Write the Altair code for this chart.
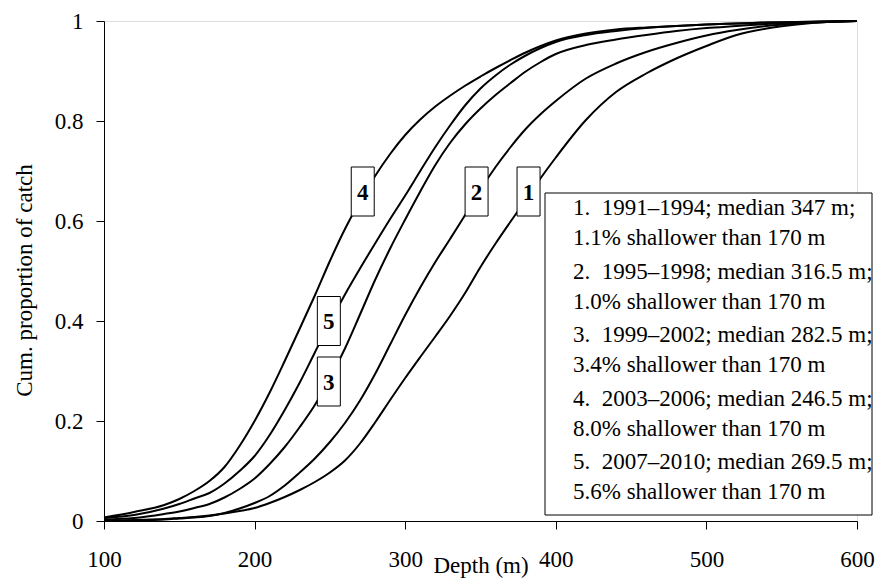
import altair as alt
import pandas as pd

# ---- data ----
depth = [100, 120, 140, 150, 160, 170, 180, 190, 200, 210, 220, 230, 240, 250, 260,
         270, 280, 290, 300, 310, 320, 330, 340, 350, 360, 370, 380, 390, 400, 420,
         440, 460, 480, 500, 520, 540, 560, 580, 600]

cum_1 = [0.0, 0.002, 0.004, 0.006, 0.008, 0.011, 0.015, 0.020, 0.026, 0.036, 0.048, 0.062,
         0.078, 0.097, 0.121, 0.155, 0.197, 0.242, 0.286, 0.328, 0.369, 0.411, 0.457, 0.508,
         0.555, 0.599, 0.642, 0.686, 0.727, 0.802, 0.858, 0.895, 0.925, 0.950, 0.972, 0.985,
         0.993, 0.998, 1.0]
cum_2 = [0.0, 0.001, 0.003, 0.005, 0.007, 0.010, 0.016, 0.025, 0.036, 0.050, 0.071, 0.097,
         0.125, 0.158, 0.196, 0.241, 0.294, 0.353, 0.412, 0.467, 0.518, 0.565, 0.613, 0.663,
         0.708, 0.748, 0.784, 0.814, 0.840, 0.885, 0.915, 0.938, 0.956, 0.971, 0.982, 0.990,
         0.995, 0.998, 1.0]
cum_3 = [0.003, 0.006, 0.014, 0.019, 0.026, 0.034, 0.047, 0.064, 0.085, 0.114, 0.148, 0.188,
         0.232, 0.285, 0.345, 0.413, 0.482, 0.545, 0.603, 0.659, 0.712, 0.757, 0.794, 0.825,
         0.852, 0.876, 0.899, 0.918, 0.934, 0.952, 0.963, 0.972, 0.980, 0.986, 0.990, 0.994,
         0.997, 0.999, 1.0]
cum_4 = [0.007, 0.018, 0.032, 0.044, 0.060, 0.080, 0.108, 0.150, 0.200, 0.257, 0.320, 0.385,
         0.451, 0.520, 0.584, 0.640, 0.690, 0.734, 0.772, 0.803, 0.829, 0.851, 0.871, 0.889,
         0.906, 0.922, 0.937, 0.950, 0.961, 0.975, 0.983, 0.987, 0.990, 0.993, 0.995, 0.997,
         0.998, 0.999, 1.0]
cum_5 = [0.006, 0.012, 0.025, 0.034, 0.045, 0.056, 0.075, 0.100, 0.130, 0.172, 0.222, 0.277,
         0.337, 0.397, 0.453, 0.505, 0.555, 0.604, 0.651, 0.700, 0.748, 0.792, 0.832, 0.865,
         0.891, 0.913, 0.931, 0.946, 0.958, 0.972, 0.980, 0.986, 0.990, 0.993, 0.995, 0.997,
         0.998, 0.999, 1.0]

series_names = ["1", "2", "3", "4", "5"]
series_values = [cum_1, cum_2, cum_3, cum_4, cum_5]

# curve label boxes (number, depth, cum. proportion at the box centre)
label_names = ["4", "2", "1", "5", "3"]
label_depth = [271.8, 347.4, 381.9, 249.3, 249.3]
label_cum = [0.659, 0.659, 0.659, 0.400, 0.279]

legend_lines = [
    ("1.\u00a0 1991\u20131994; median 347 m;", "1.1% shallower than 170 m"),
    ("2.\u00a0 1995\u20131998; median 316.5 m;", "1.0% shallower than 170 m"),
    ("3.\u00a0 1999\u20132002; median 282.5 m;", "3.4% shallower than 170 m"),
    ("4.\u00a0 2003\u20132006; median 246.5 m;", "8.0% shallower than 170 m"),
    ("5.\u00a0 2007\u20132010; median 269.5 m;", "5.6% shallower than 170 m"),
]

x_ticks = [100, 200, 300, 400, 500, 600]
y_ticks = [0, 0.2, 0.4, 0.6, 0.8, 1.0]

# ---- build tables ----
rows = []
for name, vals in zip(series_names, series_values):
    for d, v in zip(depth, vals):
        rows.append({"period": name, "depth": d, "cum": v})
df = pd.DataFrame(rows)
lab = pd.DataFrame({"label": label_names, "depth": label_depth, "cum": label_cum})

FONT = "Liberation Serif"
FS = 23

xscale = alt.Scale(domain=[100, 600], nice=False, zero=False)
yscale = alt.Scale(domain=[0, 1], nice=False)

x_axis = alt.Axis(values=x_ticks, grid=False, tickSize=8, tickColor="black",
                  domainColor="black", labelFont=FONT, labelFontSize=FS,
                  labelColor="black", labelPadding=37, labelBaseline="alphabetic",
                  labelFlush=False, title="Depth (m)", titleFont=FONT,
                  titleFontSize=FS, titleFontWeight="normal", titleColor="black",
                  titleBaseline="alphabetic", titleY=51)
y_axis = alt.Axis(values=y_ticks, grid=False, tickSize=8, tickColor="black",
                  domainColor="black", labelFont=FONT, labelFontSize=FS,
                  labelColor="black", labelPadding=13, format="~g", labelFlush=False,
                  title="Cum. proportion of catch", titleFont=FONT, titleFontSize=FS,
                  titleFontWeight="normal", titleColor="black",
                  titleBaseline="middle", titleX=-80, titleY=259)

lines = alt.Chart(df).mark_line(color="black", strokeWidth=2,
                                interpolate="monotone").encode(
    x=alt.X("depth:Q", scale=xscale, axis=x_axis),
    y=alt.Y("cum:Q", scale=yscale, axis=y_axis),
    detail="period:N",
)

box_shape = "M-0.469,-1L0.469,-1L0.469,1L-0.469,1Z"
boxes = alt.Chart(lab).mark_point(shape=box_shape, size=2401, filled=True,
                                  fill="white", stroke="black", strokeWidth=1,
                                  opacity=1).encode(
    x=alt.X("depth:Q", scale=xscale),
    y=alt.Y("cum:Q", scale=yscale),
)
box_text = alt.Chart(lab).mark_text(font=FONT, fontSize=FS, fontWeight="bold",
                                    color="black", baseline="middle",
                                    align="center", dy=1).encode(
    x=alt.X("depth:Q", scale=xscale),
    y=alt.Y("cum:Q", scale=yscale),
    text="label:N",
)

legend_box = alt.Chart(pd.DataFrame({"a": [0]})).mark_rect(
    fill="white", stroke="black", strokeWidth=1).encode(
    x=alt.value(441), x2=alt.value(768), y=alt.value(172), y2=alt.value(494))

layers = [lines, boxes, box_text, legend_box]
for i, (l1, l2) in enumerate(legend_lines):
    for j, t in enumerate((l1, l2)):
        layers.append(
            alt.Chart(pd.DataFrame({"t": [t]})).mark_text(
                font=FONT, fontSize=FS, color="black", align="left",
                baseline="middle").encode(
                x=alt.value(469), y=alt.value(187 + i * 63.6 + j * 30), text="t:N")
        )

chart = alt.layer(*layers).properties(
    width=753, height=500,
    autosize=alt.AutoSizeParams(type="none"),
    padding={"left": 96, "top": 13, "right": 18, "bottom": 58},
).configure_view(stroke=None).configure(background="white")

chart.save("out.html", embed_options={"renderer": "svg", "actions": False})
